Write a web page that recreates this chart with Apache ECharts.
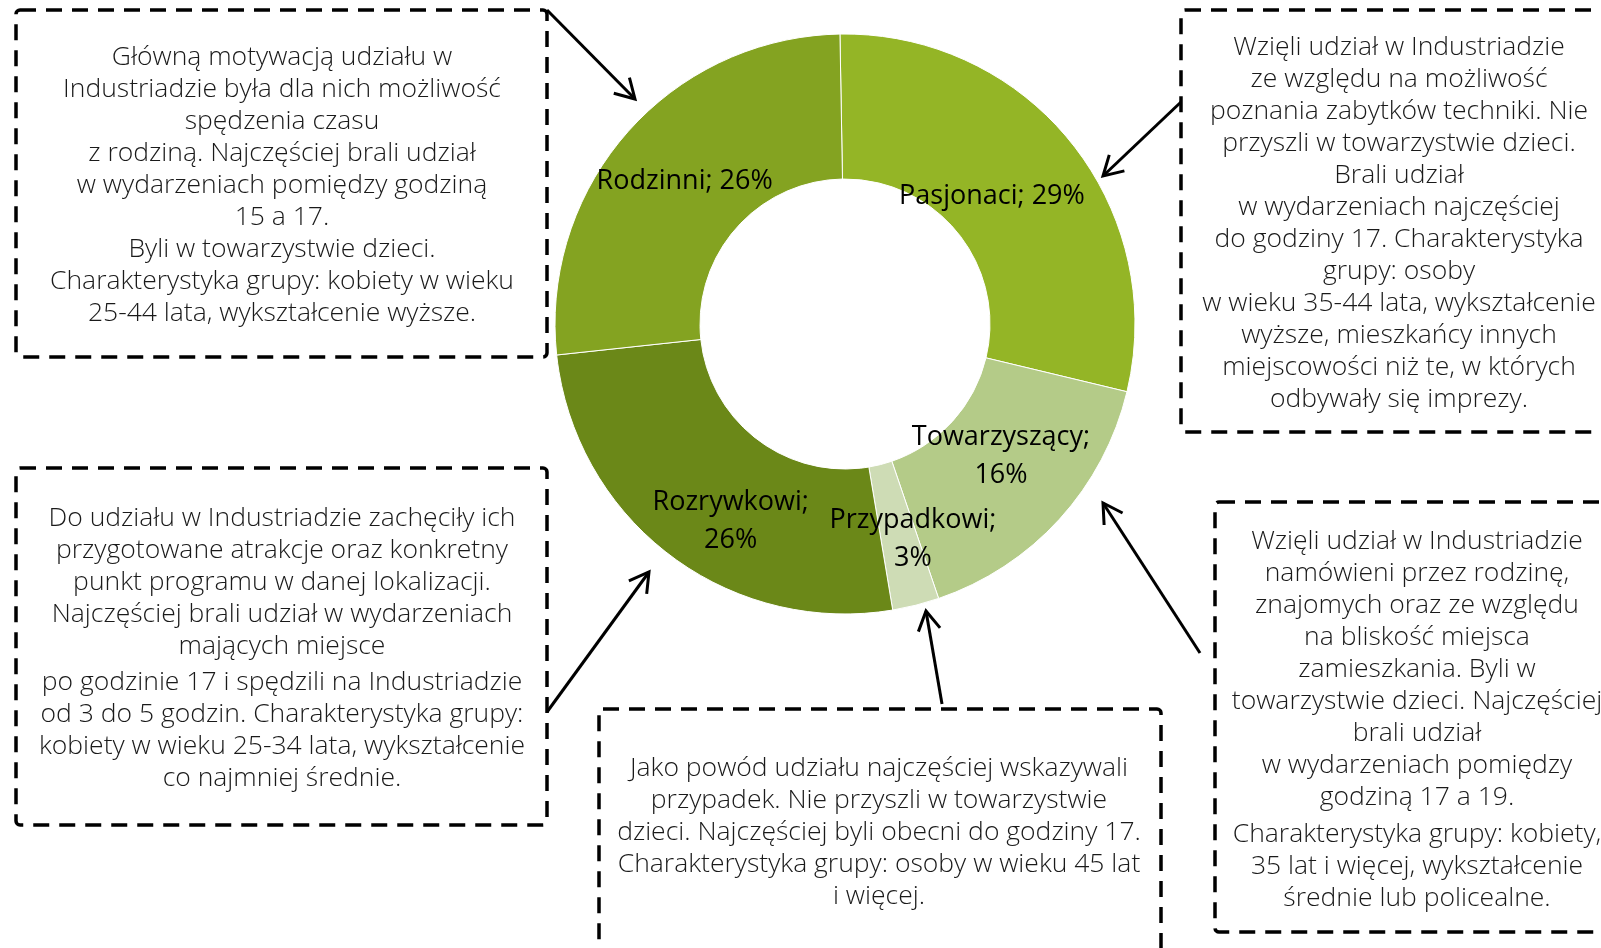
<!DOCTYPE html>
<html>
<head>
<meta charset="utf-8">
<title>Segmenty uczestników Industriady</title>
<script src="https://cdn.jsdelivr.net/npm/echarts@6/dist/echarts.min.js"></script>
<style>
  html, body { margin: 0; padding: 0; background: #fff; }
  #chart { width: 1601px; height: 948px; }
</style>
</head>
<body>
<div id="chart"></div>
<script>
// dane wykresu (udział w %, etykiety zaokrąglone)
const categories = ['Pasjonaci', 'Towarzyszący', 'Przypadkowi', 'Rozrywkowi', 'Rodzinni']
const shares = [29, 16, 2.6, 25.9, 26.4]
const colors = ['#94b526', '#b4cb88', '#cedcb5', '#6b8818', '#84a321']

// opisy grup (akapity -> linie)
const noteRodzinni = [[
  'Główną motywacją udziału w',
  'Industriadzie była dla nich możliwość',
  'spędzenia czasu',
  'z rodziną. Najczęściej brali udział',
  'w wydarzeniach pomiędzy godziną',
  '15 a 17.',
  'Byli w towarzystwie dzieci.',
  'Charakterystyka grupy: kobiety w wieku',
  '25-44 lata, wykształcenie wyższe.'
]]
const notePasjonaci = [[
  'Wzięli udział w Industriadzie',
  'ze względu na możliwość',
  'poznania zabytków techniki. Nie',
  'przyszli w towarzystwie dzieci.',
  'Brali udział',
  'w wydarzeniach najczęściej',
  'do godziny 17. Charakterystyka',
  'grupy: osoby',
  'w wieku 35-44 lata, wykształcenie',
  'wyższe, mieszkańcy innych',
  'miejscowości niż te, w których',
  'odbywały się imprezy.'
]]
const noteRozrywkowi = [[
  'Do udziału w Industriadzie zachęciły ich',
  'przygotowane atrakcje oraz konkretny',
  'punkt programu w danej lokalizacji.',
  'Najczęściej brali udział w wydarzeniach',
  'mających miejsce'
], [
  'po godzinie 17 i spędzili na Industriadzie',
  'od 3 do 5 godzin. Charakterystyka grupy:',
  'kobiety w wieku 25-34 lata, wykształcenie',
  'co najmniej średnie.'
]]
const notePrzypadkowi = [[
  'Jako powód udziału najczęściej wskazywali',
  'przypadek. Nie przyszli w towarzystwie',
  'dzieci. Najczęściej byli obecni do godziny 17.',
  'Charakterystyka grupy: osoby w wieku 45 lat',
  'i więcej.'
]]
const noteTowarzyszacy = [[
  'Wzięli udział w Industriadzie',
  'namówieni przez rodzinę,',
  'znajomych oraz ze względu',
  'na bliskość miejsca',
  'zamieszkania. Byli w',
  'towarzystwie dzieci. Najczęściej',
  'brali udział',
  'w wydarzeniach pomiędzy',
  'godziną 17 a 19.'
], [
  'Charakterystyka grupy: kobiety,',
  '35 lat i więcej, wykształcenie',
  'średnie lub policealne.'
]]

// przesunięcia etykiet względem środka wycinka (jak w oryginale z Excela)
const labelNudge = [[-25, 10], [-7, -16], [14, 2], [19, 22], [5, 3]]

const LINE_H = 32
const textFont = 'Open Sans'

// ramka z przerywaną linią
function box (x, y, w, h) {
  return {
    type: 'rect',
    shape: { x: x, y: y, width: w, height: h, r: 4 },
    style: { fill: 'none', stroke: '#000', lineWidth: 3.5, lineDash: [16, 10] },
    silent: true
  }
}

// tekst opisu, akapity z małym odstępem
function note (cx, top, paragraphs, gap) {
  const els = []
  let y = top
  paragraphs.forEach(lines => {
    els.push({
      type: 'text',
      style: {
        x: cx,
        y: y,
        text: lines.join('\n'),
        font: '300 26.5px "' + textFont + '"',
        fill: '#1a1a1a',
        align: 'center',
        verticalAlign: 'top',
        lineHeight: LINE_H
      },
      silent: true
    })
    y += lines.length * LINE_H + (gap || 0)
  })
  return els
}

// strzałka z otwartym grotem
function arrow (x1, y1, x2, y2) {
  const a = Math.atan2(y2 - y1, x2 - x1)
  const len = 22
  const spread = Math.PI / 6
  return [{
    type: 'line',
    shape: { x1: x1, y1: y1, x2: x2, y2: y2 },
    style: { stroke: '#000', lineWidth: 3 },
    silent: true
  }, {
    type: 'polyline',
    shape: {
      points: [
        [x2 - len * Math.cos(a - spread), y2 - len * Math.sin(a - spread)],
        [x2, y2],
        [x2 - len * Math.cos(a + spread), y2 - len * Math.sin(a + spread)]
      ]
    },
    style: { stroke: '#000', lineWidth: 3, fill: 'none' },
    silent: true
  }]
}

const myChart = echarts.init(document.getElementById('chart'))

const graphics = [].concat(
  box(16, 10, 531, 347),
  box(1181, 10, 440, 422),
  box(16, 468, 531, 357),
  box(599, 709, 562, 260),
  box(1215, 502, 420, 430),
  note(282, 41, noteRodzinni),
  note(1399, 31, notePasjonaci),
  note(282, 502, noteRozrywkowi, 4),
  note(879, 752, notePrzypadkowi),
  note(1417, 525, noteTowarzyszacy, 5),
  arrow(547, 10, 635, 99),
  arrow(1181, 102, 1103, 176),
  arrow(547, 712, 649, 572),
  arrow(942, 704, 926, 611),
  arrow(1200, 653, 1103, 503)
)

const option = {
  animation: false,
  color: colors,
  graphic: graphics,
  series: [
    {
      type: 'pie',
      center: [845, 324],
      radius: [145, 290],
      startAngle: 91,
      clockwise: true,
      avoidLabelOverlap: false,
      itemStyle: { borderColor: '#fff', borderWidth: 1 },
      label: {
        show: true,
        position: 'inside',
        color: '#000',
        fontFamily: textFont,
        fontSize: 27,
        lineHeight: 38,
        formatter: p => {
          const pct = Math.round(p.value) + '%'
          return p.name.length >= 10 ? p.name + ';\n' + pct : p.name + '; ' + pct
        }
      },
      labelLayout: params => ({
        dx: labelNudge[params.dataIndex][0],
        dy: labelNudge[params.dataIndex][1],
        hideOverlap: false
      }),
      labelLine: { show: false },
      emphasis: { disabled: true },
      data: categories.map((name, i) => ({ name: name, value: shares[i] }))
    }
  ]
}

myChart.setOption(option)
</script>
</body>
</html>
